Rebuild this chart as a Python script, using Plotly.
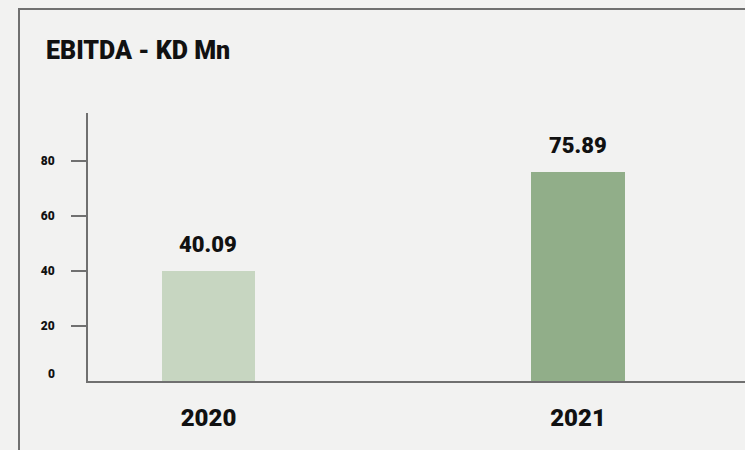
import plotly.graph_objects as go

# EBITDA, KD million
years = ["2020", "2021"]
ebitda = [40.09, 75.89]
bar_colors = ["#c7d6c1", "#91ae89"]
y_ticks = [0, 20, 40, 60, 80]

FONT = "Roboto"
AXIS_GRAY = "#707070"
TEXT = "#111111"

# plot area in pixels (used to place the title and frame in paper units)
L, T, W, H = 88, 113, 657, 268

fig = go.Figure()
fig.add_trace(go.Bar(
    x=years,
    y=ebitda,
    width=0.252,
    marker=dict(color=bar_colors, line=dict(width=0)),
    hoverinfo="skip",
))

# value labels above the bars (category index positions)
for i, v in enumerate(ebitda):
    fig.add_annotation(
        x=i, y=v, xref="x", yref="y",
        text=f"{v:.2f}",
        showarrow=False, yanchor="bottom", yshift=12,
        font=dict(family=FONT, size=22, color=TEXT, weight=900),
    )

# title
fig.add_annotation(
    xref="paper", yref="paper",
    x=(44 - L) / W, y=1 + (T - 50) / H,
    xanchor="left", yanchor="middle",
    text="EBITDA - KD Mn", showarrow=False,
    font=dict(family=FONT, size=25, color=TEXT, weight=900),
)

# outer frame
fig.add_shape(
    type="rect", xref="paper", yref="paper",
    x0=(19 - L) / W, x1=1.2,
    y0=-0.6, y1=1 + (T - 9) / H,
    line=dict(color=AXIS_GRAY, width=2),
    fillcolor="rgba(0,0,0,0)", layer="below",
)

fig.update_layout(
    width=745, height=450,
    margin=dict(l=L, r=0, t=T, b=450 - T - H),
    paper_bgcolor="#f2f2f1",
    plot_bgcolor="rgba(0,0,0,0)",
    showlegend=False,
    bargap=0,
    xaxis=dict(
        type="category",
        range=[-0.326, 1.452],
        showline=True, linecolor=AXIS_GRAY, linewidth=2,
        ticks="", showgrid=False, zeroline=False,
        tickfont=dict(family=FONT, size=24, color=TEXT, weight=900),
        ticklabelstandoff=14,
        fixedrange=True,
    ),
    yaxis=dict(
        range=[0, 97.5],
        tickvals=y_ticks[1:],
        ticktext=[str(t) for t in y_ticks[1:]],
        showline=True, linecolor=AXIS_GRAY, linewidth=2,
        ticks="outside", ticklen=15, tickwidth=2, tickcolor=AXIS_GRAY,
        showgrid=False, zeroline=False,
        tickfont=dict(family=FONT, size=12, color=TEXT, weight=900),
        ticklabelstandoff=14,
        fixedrange=True,
    ),
)

# zero label sits just above the baseline, without a tick mark
fig.add_annotation(
    x=0, y=y_ticks[0], xref="paper", yref="y",
    text=str(y_ticks[0]), showarrow=False,
    xanchor="right", yanchor="middle",
    xshift=-31, yshift=7,
    font=dict(family=FONT, size=12, color=TEXT, weight=900),
)

fig.write_html("out.html")
